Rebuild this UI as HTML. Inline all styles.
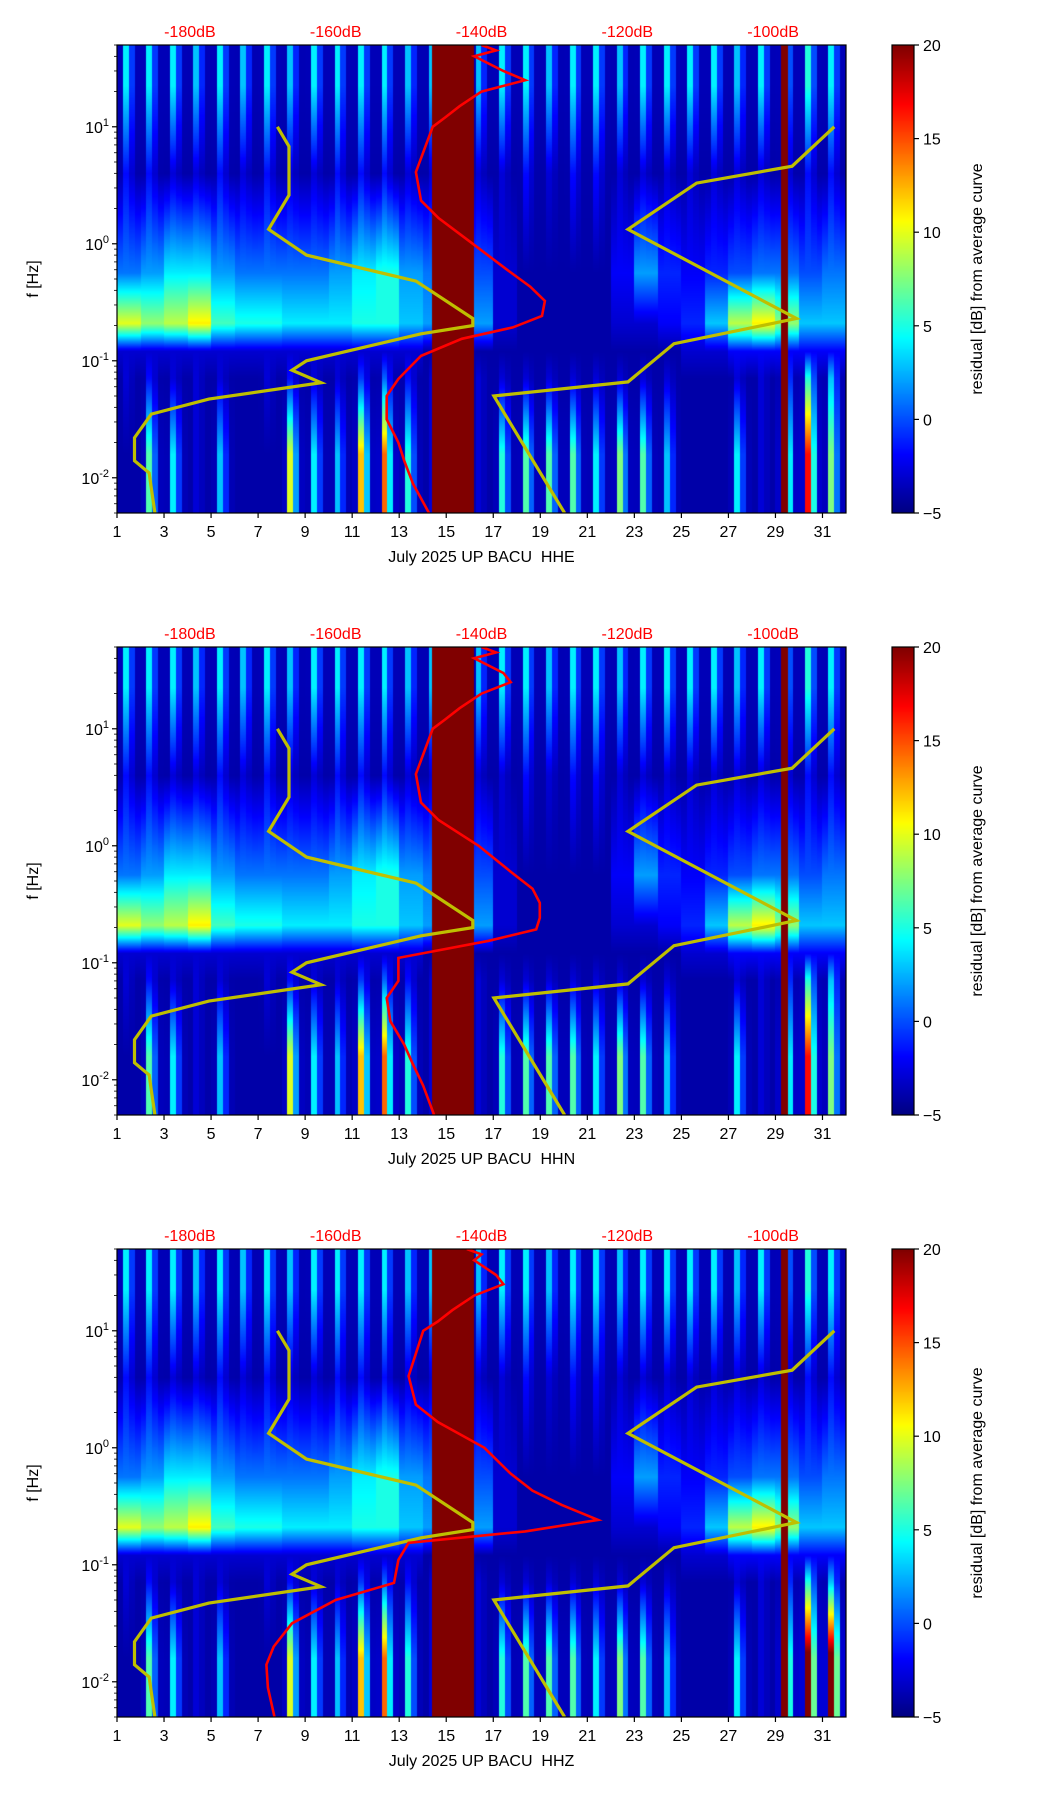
<!DOCTYPE html>
<html><head><meta charset="utf-8">
<style>
body{margin:0;background:#fff;width:1052px;height:1806px;overflow:hidden;font-family:"Liberation Sans","DejaVu Sans",sans-serif;}
#root{position:relative;width:1052px;height:1806px;}
canvas{position:absolute;}
svg{position:absolute;left:0;top:0;}
</style></head>
<body>
<div id="root">
<canvas id="c0" width="729" height="468" style="left:117px;top:45px"></canvas>
<canvas id="c1" width="729" height="468" style="left:117px;top:647px"></canvas>
<canvas id="c2" width="729" height="468" style="left:117px;top:1249px"></canvas>
<canvas id="cb0" width="22" height="468" style="left:892px;top:45px"></canvas>
<canvas id="cb1" width="22" height="468" style="left:892px;top:647px"></canvas>
<canvas id="cb2" width="22" height="468" style="left:892px;top:1249px"></canvas>
<svg id="ov" width="1052" height="1806"></svg>
</div>
<script>
// ---- data ----
const channels = ["HHE","HHN","HHZ"];
const dayTicks = [1,3,5,7,9,11,13,15,17,19,21,23,25,27,29,31];
const dbTicks = [-180,-160,-140,-120,-100];
const cbTicks = [-5,0,5,10,15,20];
const bandCenters = [1.35,0.6,-0.25,-0.68,-0.92,-1.15,-1.8];
const band0 = [3,3,3,2,3,2,3,2,3,3,3,3,2,2,2,2,3,3,2,3,3,2,3,3,3,3,2,3,4,4,3];
const band1 = [-2,-2,-3,-3,-2,-3,-2,-3,-3,-2,-2,-2,-3,-3,-3,-3,-3,-2,-3,-2,-2,-3,-3,-3,-3,-3,-3,-3,-2,-2,-2];
const band2 = [1,2,4,4,2,1,1,1,1,2,4,5,2,1,1,0,-3,-4,-4,-4,-4,-2,2,-1,-2,-1,0,1,1,0,1];
const band3 = [10,8,9,11,6,5,5,4,4,4,5,5,3,2,2,2,-3,-4,-4,-4,-4,-3,-3,-2,-1,3,9,11,8,3,3];
const bandNotch = [-3,-3,-3,-3,-3,-3,-3,-3,-3,-3,-3,-3,-3,-4,-4,-4,-4,-4,-4,-4,-4,-4,-4,-4,-3,-3,-2,-2,-2,-2,-2];
const band4 = [-3,-2,-3,-3,-3,-4,-3,-2,-3,-3,-1,0,-2,-3,-3,-3,-3,-3,-3,-3,-3,-3,-3,-3,-4,-4,-3,-3,2,4,2];
const band5 = [-4,5,3,-3,2,-4,-4,8,3,2,10,12,4,-3,-3,-3,4,5,5,5,3,6,5,2,-4,-4,3,-3,12,14,6];
const band5z = [-4,5,3,-3,2,-4,-4,8,3,2,10,12,4,-3,-3,-3,4,5,5,5,3,6,5,2,-4,-4,3,-3,14,18,18];
const diurnal = [0.05,1.15,0.5,0.05];
const gapStart = [14.4,29.25];
const gapEnd = [16.2,29.55];
const redF = [50,45,40,30,25,20,15,12,10,4.1,2.34,1.66,1,0.6,0.43,0.325,0.242,0.193,0.154,0.11,0.07,0.05,0.0316,0.02,0.014,0.0089,0.005];
const redDb0 = [-140,-138,-141,-137,-134,-140,-143,-145,-146.7,-149,-148.3,-145.9,-141.2,-136.5,-133.3,-131.3,-131.7,-135.7,-142.7,-148.3,-151.4,-153,-153,-151.4,-150.6,-149.4,-147.2];
const redDb1 = [-140,-138,-141,-137,-136,-140,-143,-145,-146.7,-149,-148.3,-145.9,-140.4,-136,-133,-132,-132,-132.5,-139,-151.4,-151.4,-153,-152.5,-150.6,-149.5,-148,-146.5];
const redDb2 = [-142,-140,-141,-138,-137,-141,-144,-146,-148,-150,-149,-146,-139.6,-136,-133,-129,-124,-134,-150,-151.4,-152,-160,-166,-168.5,-169.5,-169.3,-168.4];
const nlnmF = [10,6.8,2.6,1.33,0.8,0.48,0.23,0.2,0.17,0.1,0.083,0.065,0.047,0.035,0.022,0.014,0.011,0.005];
const nlnmDb = [-168,-166.4,-166.4,-169.2,-164,-149,-141.2,-141.2,-148.3,-164,-166,-162,-177.4,-185.3,-187.6,-187.6,-185.6,-184.8];
const nhnmF = [10,4.6,3.3,1.33,0.23,0.14,0.066,0.05,0.005];
const nhnmDb = [-91.6,-97.4,-110.5,-119.9,-96.8,-113.6,-119.9,-138.3,-128.6];

// ---- layout ----
const X0=117, W=729, H=468, tops=[45,647,1249];
const dayMin=1, dayMax=32, fLogMax=Math.log10(50), fLogMin=Math.log10(0.005);
const xDay = d => X0 + (d-dayMin)/(dayMax-dayMin)*W;
const yF = (top,f) => top + (fLogMax-Math.log10(f))/(fLogMax-fLogMin)*H;
const xDb = db => X0 + (db+190)/100*W;

function jet(v){
  const r=Math.min(Math.max(Math.min(4*v-1.5,-4*v+4.5),0),1);
  const g=Math.min(Math.max(Math.min(4*v-0.5,-4*v+3.5),0),1);
  const b=Math.min(Math.max(Math.min(4*v+0.5,-4*v+2.5),0),1);
  return [r*255,g*255,b*255];
}
const streakBands=[0,1,5,6];
function cellValue(bands,di,sub,bi){
  let v=bands[bi][di];
  if(streakBands.indexOf(bi)>=0) v=-4+(v+4)*diurnal[sub];
  return v;
}
function drawSpec(id,bands){
  const c=document.getElementById(id), ctx=c.getContext('2d');
  const img=ctx.createImageData(W,H);
  const n=bandCenters.length;
  for(let px=0;px<W;px++){
    const day=dayMin+(px+0.5)/W*(dayMax-dayMin);
    const di=Math.min(30,Math.floor(day-1)), sub=Math.floor(((day-1)%1)*4);
    let inGap=false;
    for(let g=0;g<gapStart.length;g++) if(day>=gapStart[g]&&day<=gapEnd[g]) inGap=true;
    const col=bands.map((b,bi)=>cellValue(bands,di,sub,bi));
    for(let py=0;py<H;py++){
      const lf=fLogMax-(py+0.5)/H*(fLogMax-fLogMin);
      let v;
      if(inGap) v=20;
      else if(lf>=bandCenters[0]) v=col[0];
      else if(lf<=bandCenters[n-1]) v=col[n-1];
      else{
        let i=0; while(lf<bandCenters[i+1]) i++;
        const t=(bandCenters[i]-lf)/(bandCenters[i]-bandCenters[i+1]);
        v=col[i]*(1-t)+col[i+1]*t;
      }
      const rgb=jet(Math.min(1,Math.max(0,(v+5)/25)));
      const k=(py*W+px)*4;
      img.data[k]=rgb[0];img.data[k+1]=rgb[1];img.data[k+2]=rgb[2];img.data[k+3]=255;
    }
  }
  ctx.putImageData(img,0,0);
}
function drawCb(id){
  const ctx=document.getElementById(id).getContext('2d');
  for(let py=0;py<H;py++){const rgb=jet(1-py/H);ctx.fillStyle=`rgb(${rgb[0]|0},${rgb[1]|0},${rgb[2]|0})`;ctx.fillRect(0,py,22,1);}
}
const bandSets=[
  [band0,band1,band2,band3,bandNotch,band4,band5],
  [band0,band1,band2,band3,bandNotch,band4,band5],
  [band0,band1,band2,band3,bandNotch,band4,band5z]];
for(let p=0;p<3;p++){drawSpec('c'+p,bandSets[p]);drawCb('cb'+p);}

// ---- svg overlay ----
const NS="http://www.w3.org/2000/svg", ov=document.getElementById('ov');
function el(tag,attrs,parent){const e=document.createElementNS(NS,tag);for(const k in attrs)e.setAttribute(k,attrs[k]);(parent||ov).appendChild(e);return e;}
function txt(s,attrs,parent){const e=el('text',attrs,parent);e.textContent=s;return e;}
const redSets=[redDb0,redDb1,redDb2];
for(let p=0;p<3;p++){
  const top=tops[p];
  const g=el('g',{});
  
  
  const cp=el('clipPath',{id:'clip'+p},g); el('rect',{x:X0,y:top,width:W,height:H},cp);
  const cg=el('g',{'clip-path':'url(#clip'+p+')'},g);
  const mk=(fs,dbs)=>fs.map((f,i)=>xDb(dbs[i]).toFixed(1)+','+yF(top,f).toFixed(1)).join(' ');
  const l1=el('polyline',{points:mk(nlnmF,nlnmDb),fill:'none',stroke:'#bfbf00','stroke-width':3.2},cg);
  
  
  const l2=el('polyline',{points:mk(nhnmF,nhnmDb),fill:'none',stroke:'#bfbf00','stroke-width':3.2},cg);
  
  
  const l3=el('polyline',{points:mk(redF,redSets[p]),fill:'none',stroke:'#ff0000','stroke-width':2.6},cg);
  
  
  el('rect',{x:X0,y:top,width:W,height:H,fill:'none',stroke:'#000','stroke-width':1.2},g);
  dayTicks.forEach(d=>{const x=xDay(d);el('line',{x1:x,x2:x,y1:top+H,y2:top+H+5,stroke:'#000','stroke-width':1.2},g);
    const t=txt(String(d),{x:x,y:top+H+24,'font-size':16,'text-anchor':'middle'},g);
    
    });
  const xt=txt('July 2025 UP BACU\u00a0\u00a0'+channels[p],{x:X0+W/2,y:top+H+49,'font-size':16,'text-anchor':'middle'},g);
  
  
  for(let e=-3;e<=1;e++){for(let m=1;m<10;m++){const f=m*Math.pow(10,e);if(f<0.005||f>50)continue;const y=yF(top,f);
    el('line',{x1:X0-(m===1?5:3),x2:X0,y1:y,y2:y,stroke:'#000','stroke-width':m===1?1.2:0.8},g);
    if(m===1&&e>=-2){const t=txt('',{x:X0-8,y:y+6,'font-size':16,'text-anchor':'end'},g);
      
      
      const a=el('tspan',{},t);a.textContent='10';const b=el('tspan',{dy:-7,'font-size':11},t);b.textContent=String(e);}}}
  const yt=txt('f [Hz]',{x:38,y:top+H/2,'font-size':16,'text-anchor':'middle',transform:`rotate(-90 38 ${top+H/2})`},g);
  
  
  dbTicks.forEach(db=>{const t=txt(db+'dB',{x:xDb(db),y:top-8,'font-size':16,'text-anchor':'middle',fill:'#ff0000'},g);
    
    });
  el('rect',{x:892,y:top,width:22,height:H,fill:'none',stroke:'#000','stroke-width':1.2},g);
  cbTicks.forEach(v=>{const y=top+H-(v+5)/25*H;el('line',{x1:914,x2:919,y1:y,y2:y,stroke:'#000','stroke-width':1.2},g);
    const t=txt(v<0?'\u2212'+(-v):String(v),{x:923,y:y+6,'font-size':16},g);
    
    });
  const ct=txt('residual [dB] from average curve',{x:982,y:top+H/2,'font-size':16,'text-anchor':'middle',transform:`rotate(-90 982 ${top+H/2})`},g);
  
  
}
</script>
</body></html>
